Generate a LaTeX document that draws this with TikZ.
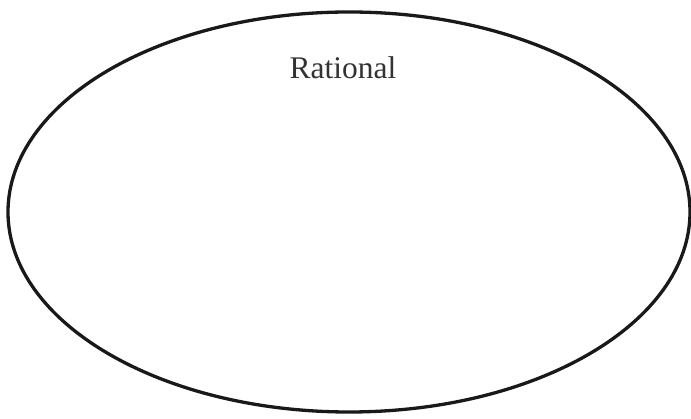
\documentclass[tikz,border=0pt]{standalone}
\usepackage{fontspec}
\setmainfont{Liberation Serif}
\usetikzlibrary{shapes.geometric}
\begin{document}
\begin{tikzpicture}[x=1pt,y=-1pt,
  setshape/.style={draw=black!90,line width=3.3pt},
  setlabel/.style={font=\fontsize{31.5}{36}\selectfont,text=black!80,anchor=base,inner sep=0pt}]
\useasboundingbox (0,0) rectangle (691,419);
\node[setshape,ellipse,minimum width=682pt,minimum height=400pt,inner sep=0pt] (rational) at (349,212) {};
\node[setlabel] (rlabel) at (343,79) {Rational};
\end{tikzpicture}
\end{document}
